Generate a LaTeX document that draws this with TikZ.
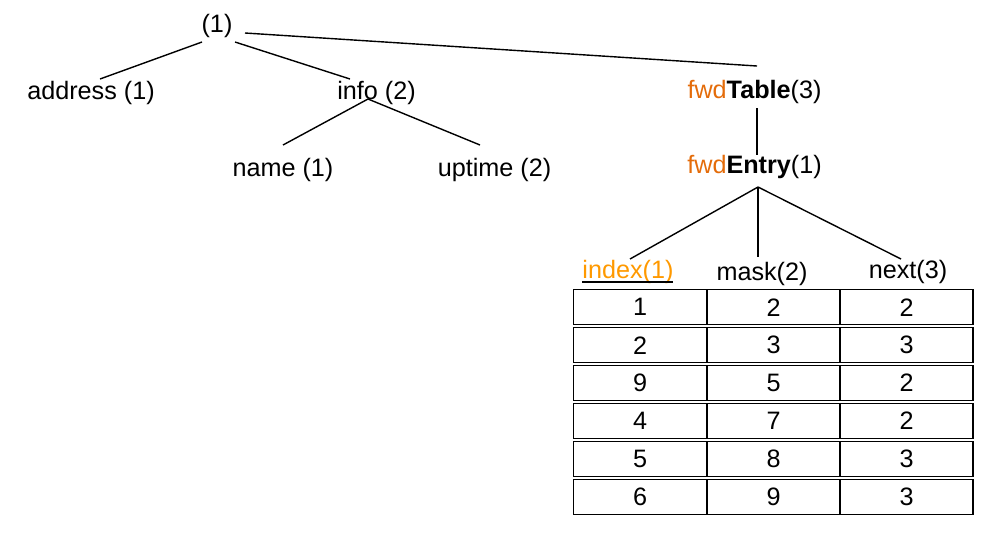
\documentclass[tikz,border=0pt]{standalone}
\usepackage{fontspec}
\setmainfont{Liberation Sans}
\definecolor{fwdorange}{HTML}{E46C0A}
\definecolor{idxorange}{HTML}{FF9900}
\begin{document}
\begin{tikzpicture}[x=0.5pt,y=-0.5pt,
  lbl/.style={inner sep=0pt,anchor=base,font=\fontsize{12.6}{15}\selectfont},
  edge/.style={line width=0.7pt},
  cell/.style={draw,line width=0.65pt,minimum width=66.5pt,minimum height=17.5pt,inner sep=0pt,font=\fontsize{12.6}{15}\selectfont}]
\useasboundingbox (0,0) rectangle (988,532);
\node[lbl] (root) at (217,32) {(1)};
\node[lbl] (addr) at (91,99) {address (1)};
\node[lbl] (info) at (376.5,99) {info (2)};
\node[lbl] (name) at (283,176) {name (1)};
\node[lbl] (uptime) at (494.5,176) {uptime (2)};
\node[lbl] (table) at (754.5,98) {\textcolor{fwdorange}{fwd}\textbf{Table}(3)};
\node[lbl] (entry) at (754.5,173) {\textcolor{fwdorange}{fwd}\textbf{Entry}(1)};
\node[lbl] (index) at (628,278) {\textcolor{idxorange}{index(1)}};
\node[lbl] (mask) at (762,280) {mask(2)};
\node[lbl] (next) at (908,278) {next(3)};
\draw[edge] ([shift={(-46,4)}]index.base) -- ([shift={(45,4)}]index.base);
\draw[edge] ([shift={(-15,10)}]root.base) -- ([shift={(9,-20)}]addr.base);
\draw[edge] ([shift={(18,10)}]root.base) -- ([shift={(-26.5,-20)}]info.base);
\draw[edge] ([shift={(28,1)}]root.base) -- ([shift={(2.5,-32)}]table.base);
\draw[edge] ([shift={(-8.5,0)}]info.base) -- ([shift={(0,-31)}]name.base);
\draw[edge] ([shift={(-8.5,0)}]info.base) -- ([shift={(-14.5,-31)}]uptime.base);
\draw[edge] ([shift={(2.5,10)}]table.base) -- ([shift={(2.5,-18)}]entry.base);
\draw[edge] ([shift={(3.5,14)}]entry.base) -- ([shift={(2,-19)}]index.base);
\draw[edge] ([shift={(3.5,14)}]entry.base) -- ([shift={(-4,-23)}]mask.base);
\draw[edge] ([shift={(3.5,14)}]entry.base) -- ([shift={(-7,-19)}]next.base);
\foreach \r/\y/\a/\b/\c in {1/307.3/1/2/2, 2/345.2/2/3/3, 3/383.1/9/5/2, 4/421/4/7/2, 5/458.9/5/8/3, 6/496.8/6/9/3}{
  \node[cell] (c\r a) at (640,\y) {\a};
  \node[cell] (c\r b) at (773.5,\y) {\b};
  \node[cell] (c\r c) at (906.5,\y) {\c};
}
\end{tikzpicture}
\end{document}
